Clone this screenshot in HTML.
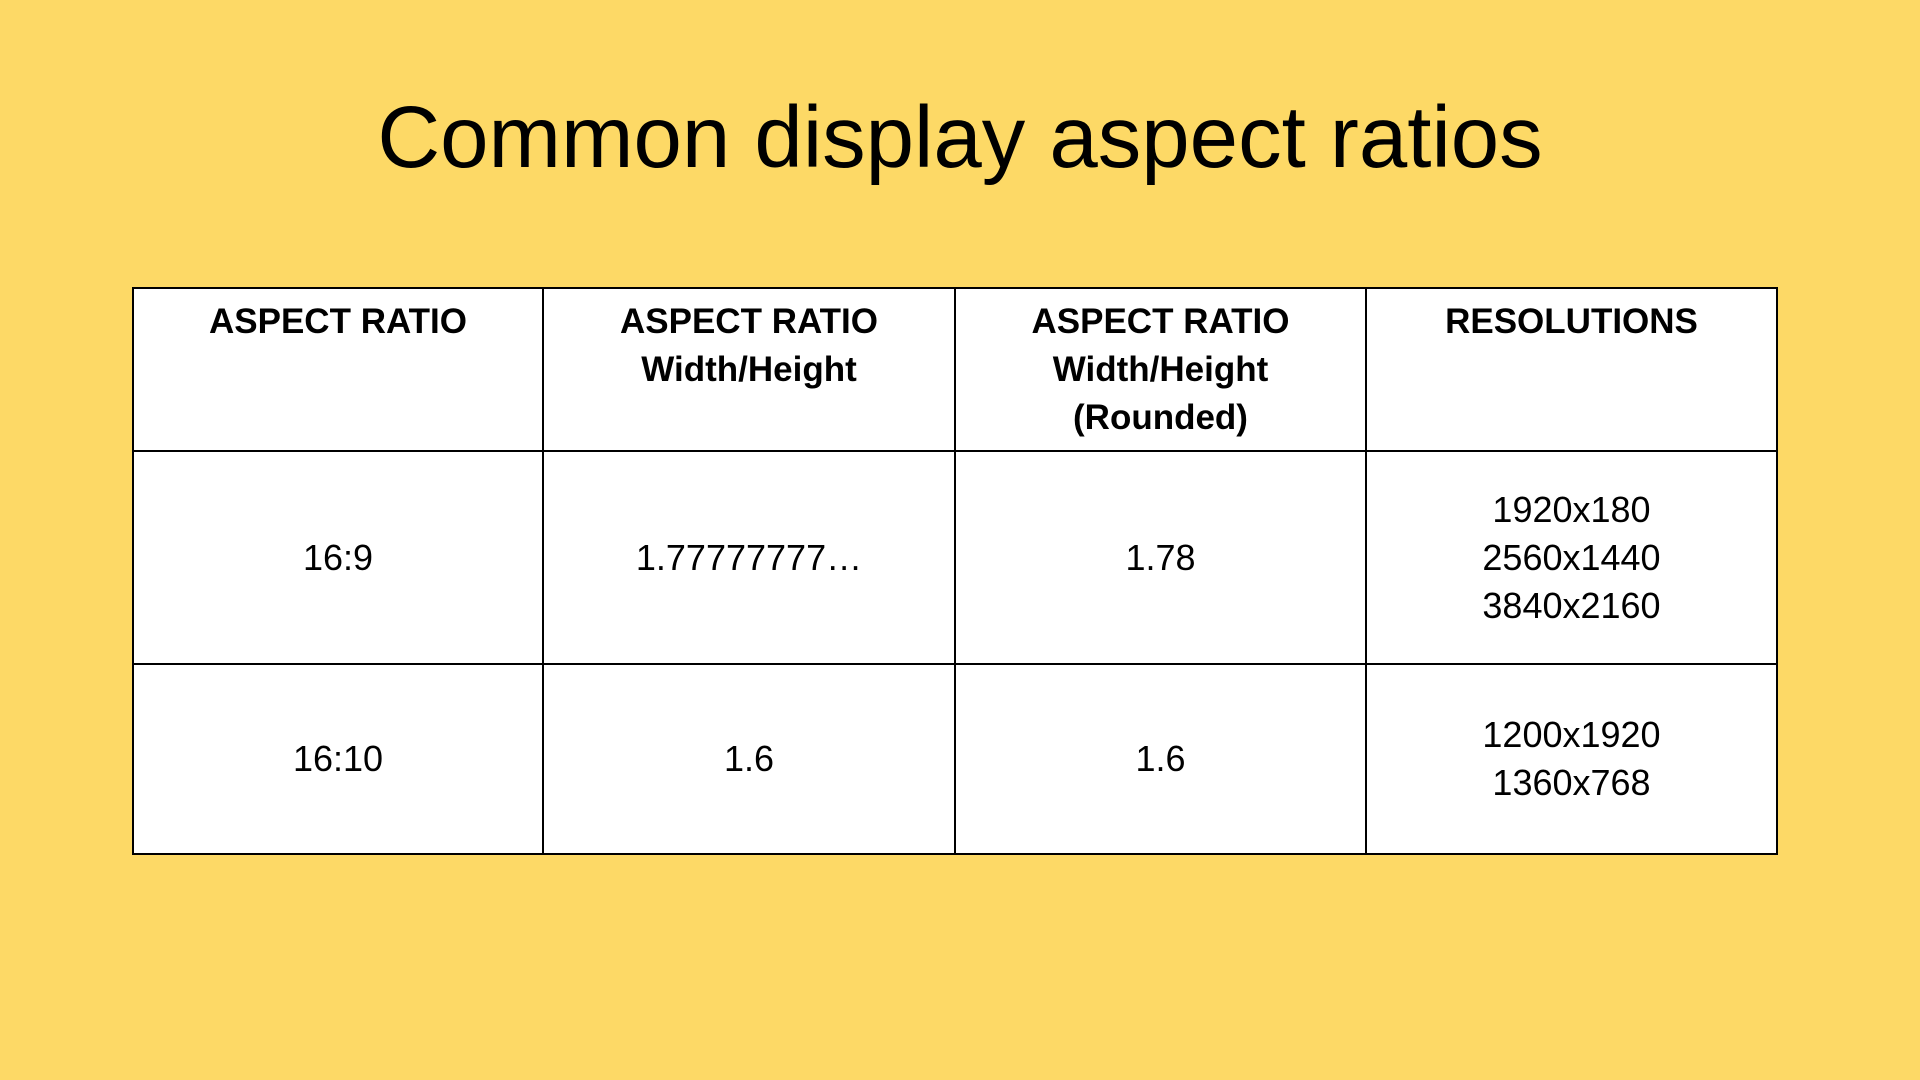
<!DOCTYPE html>
<html>
<head>
<meta charset="utf-8">
<style>
  html, body { margin: 0; padding: 0; }
  body {
    width: 1920px; height: 1080px; overflow: hidden;
    background: #fdd966;
    font-family: "Liberation Sans", sans-serif;
    color: #000;
    position: relative;
  }
  h1 {
    position: absolute; left: 0; top: 88px; width: 1920px; margin: 0;
    text-align: center; font-weight: normal; font-size: 87px; line-height: 100px;
  }
  table {
    position: absolute; left: 132px; top: 287px;
    width: 1646px; border-collapse: collapse; background: #fff;
  }
  td, th {
    border: 2px solid #000; text-align: center;
    font-size: 36px; line-height: 48px; padding: 0;
  }
  th { font-size: 35px; font-weight: bold; vertical-align: top; padding-top: 9px; height: 163px; box-sizing: border-box; }
  td { vertical-align: middle; }
  tr.r1 td { height: 211px; }
  tr.r2 td { height: 188px; }
</style>
</head>
<body>
<h1>Common display aspect ratios</h1>
<table>
  <tr>
    <th style="width:410px">ASPECT RATIO</th>
    <th style="width:412px">ASPECT RATIO<br>Width/Height</th>
    <th style="width:411px">ASPECT RATIO<br>Width/Height<br>(Rounded)</th>
    <th>RESOLUTIONS</th>
  </tr>
  <tr class="r1">
    <td>16:9</td>
    <td>1.77777777…</td>
    <td>1.78</td>
    <td>1920x180<br>2560x1440<br>3840x2160</td>
  </tr>
  <tr class="r2">
    <td>16:10</td>
    <td>1.6</td>
    <td>1.6</td>
    <td>1200x1920<br>1360x768</td>
  </tr>
</table>
</body>
</html>
